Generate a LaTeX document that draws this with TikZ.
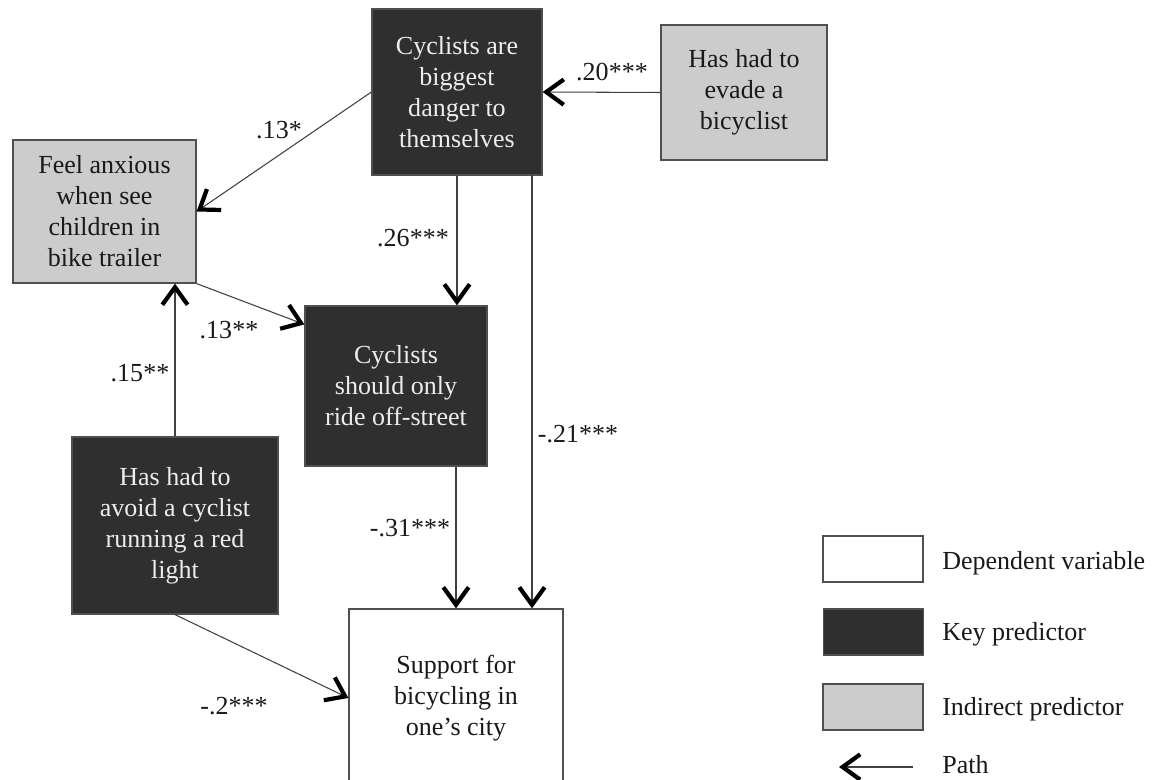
\documentclass[tikz,border=0pt]{standalone}
\usepackage{fontspec}
\setmainfont{Liberation Serif}
\usepackage{tikz}
\usetikzlibrary{arrows.meta}
\usetikzlibrary{calc}

\definecolor{keyfill}{RGB}{47,47,47}
\definecolor{indfill}{RGB}{204,204,204}
\definecolor{boxline}{RGB}{80,80,80}

\tikzset{
  varbox/.style={draw=boxline, line width=0.8pt, align=center, inner sep=0pt,
    font=\fontsize{18.5}{22}\selectfont},
  keybox/.style={varbox, fill=keyfill, text=white!93!black},
  indbox/.style={varbox, fill=indfill, text=black!90},
  depbox/.style={varbox, fill=white, text=black!90},
  pathline/.style={line width=0.75pt, draw=black!75,
    -{Straight Barb[length=12.5pt,width=18pt,line width=3pt,color=black]}},
  coef/.style={font=\fontsize{18.5}{22}\selectfont, inner sep=0pt, text=black!90}
}

\begin{document}
\begin{tikzpicture}[x=0.025cm, y=-0.025cm]
  \useasboundingbox (0,0) rectangle (1152,780);

  % variables
  \node [keybox, minimum width=4.25cm, minimum height=4.15cm] (danger) at (457,92)
    {Cyclists are\\biggest\\danger to\\themselves};
  \node [indbox, minimum width=4.15cm, minimum height=3.375cm] (evade) at (744,92.5)
    {Has had to\\evade a\\bicyclist};
  \node [indbox, minimum width=4.575cm, minimum height=3.575cm] (anx) at (104.5,211.5)
    {Feel anxious\\when see\\children in\\bike trailer};
  \node [keybox, minimum width=4.55cm, minimum height=4cm] (offst) at (396,386)
    {Cyclists\\should only\\ride off-street};
  \node [keybox, minimum width=5.15cm, minimum height=4.425cm] (redlt) at (175,525.5)
    {Has had to\\avoid a cyclist\\running a red\\light};
  \node [depbox, minimum width=5.35cm, minimum height=4.45cm] (support) at (456,698)
    {Support for\\bicycling in\\one’s city};

  % paths
  \coordinate (dangerR) at (532,175);
  \draw [pathline] (evade.west) -- (danger.east);
  \draw [pathline] (danger.west) -- (anx.east);
  \draw [pathline] (danger.south) -- (danger.south |- offst.north);
  \draw [pathline] (anx.south east) -- ($(offst.north west)+(0,19)$);
  \draw [pathline] (redlt.north) -- (redlt.north |- anx.south);
  \draw [pathline] (support.north |- offst.south) -- (support.north);
  \draw [pathline] (dangerR) -- (dangerR |- support.north);
  \draw [pathline] (redlt.south) -- (support.west);

  % coefficients
  \node [coef] (c20) at (612,72) {.20***};
  \node [coef] (c13a) at (279,130) {.13*};
  \node [coef] (c26) at (413,238) {.26***};
  \node [coef] (c13b) at (229,330) {.13**};
  \node [coef] (c15) at (140,373) {.15**};
  \node [coef] (c21) at (578,434) {-.21***};
  \node [coef] (c31) at (410,528) {-.31***};
  \node [coef] (c2) at (234,706) {-.2***};

  % legend
  \node [depbox, minimum width=2.5cm, minimum height=1.15cm] (legdep) at (873,559) {};
  \node [keybox, minimum width=2.5cm, minimum height=1.15cm] (legkey) at (873.5,632) {};
  \node [indbox, minimum width=2.5cm, minimum height=1.15cm] (legind) at (873,707) {};
  \node [coef, anchor=west] (txtdep) at (942,563) {Dependent variable};
  \node [coef, anchor=west] (txtkey) at (942,634) {Key predictor};
  \node [coef, anchor=west] (txtind) at (942,709) {Indirect predictor};
  \node [coef, anchor=west] (txtpath) at (942,765) {Path};
  \coordinate (legtail) at (913,767);
  \coordinate (leghead) at (839,767);
  \draw [pathline, line width=1.3pt] (legtail) -- (leghead);
\end{tikzpicture}
\end{document}
